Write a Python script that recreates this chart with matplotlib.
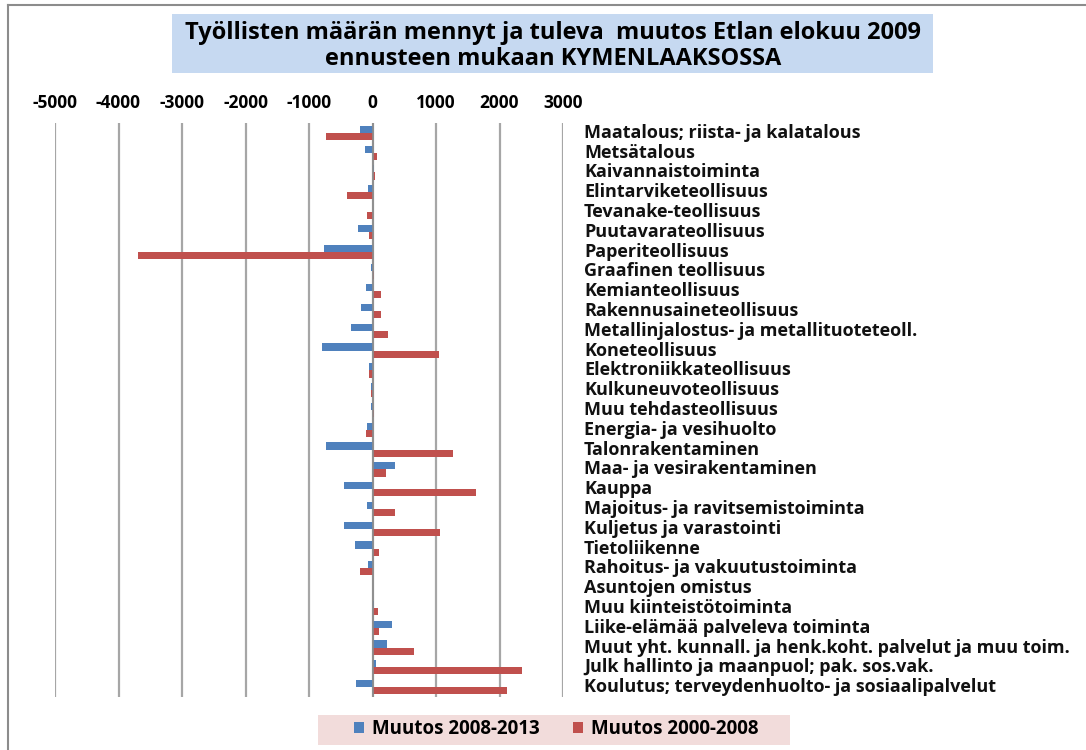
import numpy as np
import matplotlib.pyplot as plt
from matplotlib.patches import Rectangle
from matplotlib.lines import Line2D

plt.rcParams["font.family"] = ["Open Sans", "DejaVu Sans"]
plt.rcParams["font.weight"] = "bold"

# ------------------------------------------------------------
# Data
# ------------------------------------------------------------
toimialat = [
    "Maatalous; riista- ja kalatalous",
    "Metsätalous",
    "Kaivannaistoiminta",
    "Elintarviketeollisuus",
    "Tevanake-teollisuus",
    "Puutavarateollisuus",
    "Paperiteollisuus",
    "Graafinen teollisuus",
    "Kemianteollisuus",
    "Rakennusaineteollisuus",
    "Metallinjalostus- ja metallituoteteoll.",
    "Koneteollisuus",
    "Elektroniikkateollisuus",
    "Kulkuneuvoteollisuus",
    "Muu tehdasteollisuus",
    "Energia- ja vesihuolto",
    "Talonrakentaminen",
    "Maa- ja vesirakentaminen",
    "Kauppa",
    "Majoitus- ja ravitsemistoiminta",
    "Kuljetus ja varastointi",
    "Tietoliikenne",
    "Rahoitus- ja vakuutustoiminta",
    "Asuntojen omistus",
    "Muu kiinteistötoiminta",
    "Liike-elämää palveleva toiminta",
    "Muut yht. kunnall. ja henk.koht. palvelut ja muu toim.",
    "Julk hallinto ja maanpuol; pak. sos.vak.",
    "Koulutus; terveydenhuolto- ja sosiaalipalvelut",
]

muutos_2008_2013 = [
    -200, -125, 20, -75, 0, -225, -760, -25, -105, -180,
    -345, -790, -55, -30, -30, -80, -740, 360, -450, -80,
    -450, -280, -75, 0, 25, 305, 235, 60, -255,
]

muutos_2000_2008 = [
    -740, 65, 35, -395, -80, -55, -3700, 30, 140, 140,
    240, 1040, -60, -30, 30, -105, 1260, 210, 1630, 355,
    1070, 110, -200, 0, 90, 105, 650, 2360, 2120,
]

sarjat = ["Muutos 2008-2013", "Muutos 2000-2008"]
xticks = [-5000, -4000, -3000, -2000, -1000, 0, 1000, 2000, 3000]

BLUE = "#4f81bd"
RED = "#c0504d"
W, H = 1086, 750

# ------------------------------------------------------------
# Figure
# ------------------------------------------------------------
fig = plt.figure(figsize=(W / 100, H / 100), dpi=100)
ax = fig.add_axes([55 / W, 1 - 697 / H, (563 - 55) / W, (697 - 123) / H])

y = np.arange(len(toimialat))
h = 0.36
b1 = ax.barh(y - h / 2, muutos_2008_2013, height=h, color=BLUE, label=sarjat[0], zorder=3)
b2 = ax.barh(y + h / 2, muutos_2000_2008, height=h, color=RED, label=sarjat[1], zorder=3)

ax.set_xlim(xticks[0], xticks[-1])
ax.set_ylim(len(toimialat) - 0.5, -0.5)
ax.set_xticks(xticks)
ax.set_xticklabels([str(v) for v in xticks], fontsize=12.5, fontweight="bold")
ax.xaxis.tick_top()
ax.tick_params(axis="x", length=0, pad=8)
ax.set_yticks([])
for s in ax.spines.values():
    s.set_visible(False)
ax.grid(axis="x", color="#a6a6a6", linewidth=1.6, zorder=0)
ax.axvline(0, color="#8c8c8c", linewidth=1.2, zorder=4)

# category labels on the right side
for i, name in enumerate(toimialat):
    ax.text((584 - 55) / (563 - 55), i, name, transform=ax.get_yaxis_transform(),
            ha="left", va="center", fontsize=13, fontweight="bold", color="#111111")

# ------------------------------------------------------------
# Title box
# ------------------------------------------------------------
fig.patches.append(Rectangle((172 / W, 1 - 73 / H), (933 - 172) / W, (73 - 14) / H,
                             transform=fig.transFigure, facecolor="#c6d9f1", edgecolor="none"))
fig.text(553 / W, 1 - 33 / H, "Työllisten määrän mennyt ja tuleva  muutos Etlan elokuu 2009",
         ha="center", va="center", fontsize=17, fontweight="bold")
fig.text(553 / W, 1 - 59 / H, "ennusteen mukaan KYMENLAAKSOSSA",
         ha="center", va="center", fontsize=17, fontweight="bold")

# chart border
fig.add_artist(Line2D([8 / W, 1], [1 - 5 / H, 1 - 5 / H], transform=fig.transFigure,
                      color="#8c8c8c", linewidth=1.5))
fig.add_artist(Line2D([8 / W, 8 / W], [0, 1 - 5 / H], transform=fig.transFigure,
                      color="#8c8c8c", linewidth=1.5))

# ------------------------------------------------------------
# Legend
# ------------------------------------------------------------
fig.patches.append(Rectangle((318 / W, 1 - 745 / H), (790 - 318) / W, 30 / H,
                             transform=fig.transFigure, facecolor="#f2dcdb", edgecolor="none"))
leg = fig.legend(handles=[b1, b2], loc="center", ncol=2,
                 bbox_to_anchor=(556 / W, 1 - 729 / H),
                 frameon=False, handlelength=0.55, handleheight=0.55, handletextpad=0.4,
                 columnspacing=1.8, prop={"size": 13.5, "weight": "bold"})

fig.savefig("out.png", dpi=100)
